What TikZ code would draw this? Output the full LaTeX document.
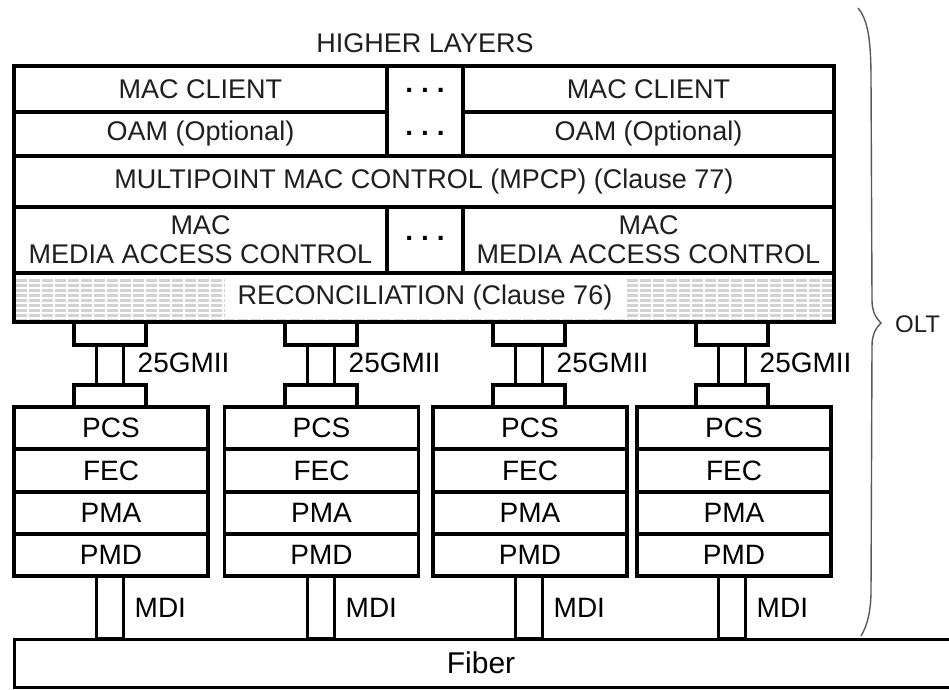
\documentclass[tikz,border=0pt]{standalone}
\usepackage{fontspec}
\setmainfont{Liberation Sans}
\begin{document}
\begin{tikzpicture}[x=1pt,y=-1pt,
  cell/.style={draw, line width=3.5pt, inner sep=0pt, outer sep=0pt, align=center,
    font=\fontsize{27}{29}\selectfont, text=black!88},
  phy/.style={draw, line width=3.5pt, inner sep=0pt, outer sep=0pt,
    minimum width=194, minimum height=42, font=\fontsize{28}{32}\selectfont},
  link/.style={draw, line width=3.5pt, inner sep=0pt, outer sep=0pt},
  lbl/.style={inner sep=0pt, anchor=west, font=\fontsize{28}{32}\selectfont},
  dots/.style={inner sep=0pt, font=\fontsize{28}{29}\selectfont\bfseries},
  stripe/.style={gray!35, line width=3pt, dash pattern=on 11pt off 2pt}
]
\useasboundingbox (0,0) rectangle (949,689);

% title
\node[font=\fontsize{27}{29}\selectfont, text=black!88] (higher) at (425,43) {HIGHER LAYERS};

% upper stack
\node[cell, minimum width=373, minimum height=46] (mc1) at (200.5,89) {MAC CLIENT};
\node[cell, minimum width=371, minimum height=46] (mc2) at (648.5,89) {MAC CLIENT};
\node[cell, minimum width=373, minimum height=44] (oam1) at (200.5,134) {OAM (Optional)};
\node[cell, minimum width=371, minimum height=44] (oam2) at (648.5,134) {OAM (Optional)};
\node[cell, minimum width=76, minimum height=90] (dcol) at (425,111) {};
\node[dots] (d1) at (425,90) {.\hspace{8pt}.\hspace{8pt}.};
\node[dots] (d2) at (425,133) {.\hspace{8pt}.\hspace{8pt}.};
\node[cell, minimum width=820, minimum height=51] (mpcp) at (424,181.5) {MULTIPOINT MAC CONTROL (MPCP) (Clause 77)};
\node[cell, minimum width=373, minimum height=66] (mac1) at (200.5,240) {MAC\\MEDIA ACCESS CONTROL};
\node[cell, minimum width=76, minimum height=66] (dmac) at (425,240) {};
\node[dots] (d3) at (425,238) {.\hspace{8pt}.\hspace{8pt}.};
\node[cell, minimum width=371, minimum height=66] (mac2) at (648.5,240) {MAC\\MEDIA ACCESS CONTROL};

% reconciliation with stripes
\node[cell, minimum width=820, minimum height=49] (recon) at (424,297.5) {};
\begin{scope}
  \clip (16,275) rectangle (832,320);
  \foreach \yy in {280,285,...,320} {
    \draw[stripe] (16,\yy) -- (832,\yy);
  }
\end{scope}
\node[fill=white, inner sep=0pt, minimum width=400, minimum height=42,
  font=\fontsize{27}{29}\selectfont, text=black!88] (recontxt) at (425,297.5) {RECONCILIATION (Clause 76)};
\draw[line width=3.5pt] (recon.north west) rectangle (recon.south east);

% PHY stacks
\foreach \i/\cx/\cc in {1/111/110, 2/321.5/321, 3/530/529, 4/734/732} {
  \node[link, minimum width=72, minimum height=23] (gtop\i) at (\cc,333.5) {};
  \node[link, minimum width=27, minimum height=40] (gmid\i) at (\cc,365) {};
  \node[link, minimum width=72, minimum height=22] (gbot\i) at (\cc,396) {};
  \node[lbl] (glbl\i) at ([xshift=14pt,yshift=2pt]gmid\i.east) {25GMII};
  \node[phy] (pcs\i) at (\cx,428) {PCS};
  \node[phy] (fec\i) at (\cx,470.5) {FEC};
  \node[phy] (pma\i) at (\cx,513) {PMA};
  \node[phy] (pmd\i) at (\cx,555) {PMD};
  \node[link, minimum width=27, minimum height=63] (mdi\i) at (\cc,607.5) {};
  \node[lbl] (mlbl\i) at ([xshift=11pt,yshift=0pt]mdi\i.east) {MDI};
}

% fiber
\draw[line width=3pt] (960,639) -- (14,639) -- (14,687) -- (960,687);
\node[inner sep=0pt, font=\fontsize{30}{32}\selectfont] (fiber) at (481,663) {Fiber};

% brace
\draw[gray!70!black, line width=1.4pt]
  (858,8) .. controls (868,20) and (871,40) .. (871,80)
  -- (872,300) .. controls (872,312) and (876,318) .. (881,323)
  coordinate (tip)
  .. controls (876,328) and (872,334) .. (872,346)
  -- (871,590) .. controls (871,612) and (867,626) .. (861,636);
\node[font=\fontsize{24}{28}\selectfont, text=black!88, anchor=west, inner sep=0pt] (olt) at (895,324) {OLT};
\end{tikzpicture}
\end{document}
